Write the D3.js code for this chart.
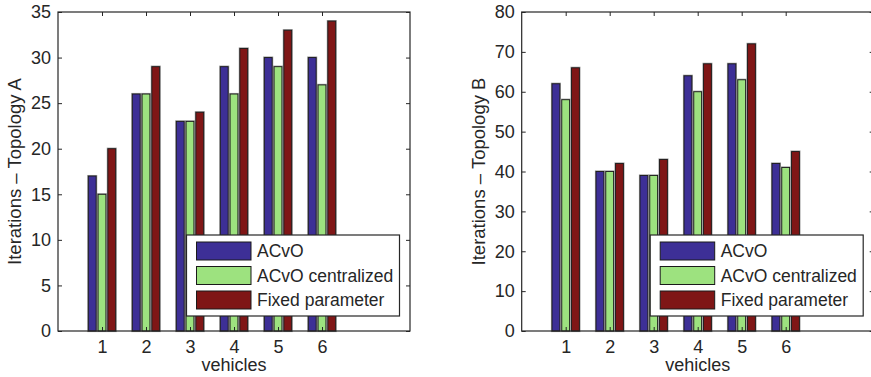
<!DOCTYPE html>
<html>
<head>
<meta charset="utf-8">
<script src="https://cdn.jsdelivr.net/npm/d3@7"></script>
<style>
body{margin:0;background:#fff;}
text{font-family:"Liberation Sans",Arial,sans-serif;fill:#262626;}
</style>
</head>
<body>
<div id="plot"></div>
<script>
//Size;
const w=871;
const h=377;

//Data;
const vehicles=[1,2,3,4,5,6];
const seriesNames=["ACvO","ACvO centralized","Fixed parameter"];
const seriesColors=["#3d2f96","#9de27f","#7f1616"];

const topoA_acvo=[17,26,23,29,30,30];
const topoA_central=[15,26,23,26,29,27];
const topoA_fixed=[20,29,24,31,33,34];

const topoB_acvo=[62,40,39,64,67,42];
const topoB_central=[58,40,39,60,63,41];
const topoB_fixed=[66,42,43,67,72,45];

const yTicksA=[0,5,10,15,20,25,30,35];
const yTicksB=[0,10,20,30,40,50,60,70,80];

const svg=d3.select("#plot")
			.append("svg")
			  .attr("width",w)
			  .attr("height",h);

function drawPanel(left,right,yMax,yTicks,series,yLabel,labelX){
	const top=12, bottom=331;

	let x=d3.scaleLinear().domain([0,8]).range([left,right]);
	let y=d3.scaleLinear().domain([0,yMax]).range([bottom,top]);

	const g=svg.append("g");

	//Bars (MATLAB grouped layout);
	const slot=(x(1)-x(0))*(2/3)/3;
	const bw=slot*0.8;
	series.forEach(function(vals,s){
		//soft gray halo;
		g.selectAll(null)
		 .data(vals)
		 .enter()
		.append("rect")
		 .attr("x",function(d,i){ return x(vehicles[i])+(s-1)*slot-bw/2; })
		 .attr("y",function(d){ return y(d); })
		 .attr("width",bw)
		 .attr("height",function(d){ return y(0)-y(d); })
		 .attr("fill","none")
		 .attr("stroke","#999")
		 .attr("stroke-width",2.2);
		g.selectAll(null)
		 .data(vals)
		 .enter()
		.append("rect")
		 .attr("x",function(d,i){ return x(vehicles[i])+(s-1)*slot-bw/2; })
		 .attr("y",function(d){ return y(d); })
		 .attr("width",bw)
		 .attr("height",function(d){ return y(0)-y(d); })
		 .attr("fill",seriesColors[s])
		 .attr("stroke","#1a1a1a")
		 .attr("stroke-width",0.9);
	});

	//Axes box;
	g.append("rect")
	 .attr("x",left).attr("y",top)
	 .attr("width",right-left).attr("height",bottom-top)
	 .attr("fill","none").attr("stroke","#262626").attr("stroke-width",1.2);

	//Axes with inward ticks;
	g.append("g")
	 .attr("transform","translate(0,"+bottom+")")
	 .call(d3.axisBottom(x).tickValues(vehicles).tickSizeInner(-4).tickSizeOuter(0).tickPadding(9))
	 .call(function(a){ a.select(".domain").remove(); });
	g.append("g")
	 .attr("transform","translate(0,"+top+")")
	 .call(d3.axisTop(x).tickValues(vehicles).tickSizeInner(-4).tickSizeOuter(0).tickFormat(""))
	 .call(function(a){ a.select(".domain").remove(); });
	g.append("g")
	 .attr("transform","translate("+left+",0)")
	 .call(d3.axisLeft(y).tickValues(yTicks).tickSizeInner(-4).tickSizeOuter(0).tickPadding(7))
	 .call(function(a){ a.select(".domain").remove(); });
	g.append("g")
	 .attr("transform","translate("+right+",0)")
	 .call(d3.axisRight(y).tickValues(yTicks).tickSizeInner(-4).tickSizeOuter(0).tickFormat(""))
	 .call(function(a){ a.select(".domain").remove(); });

	g.selectAll(".tick line").attr("stroke","#262626");
	g.selectAll(".tick text")
	 .attr("font-size","18px")
	 .attr("font-family","Liberation Sans, Arial, sans-serif")
	 .attr("fill","#262626");

	//Labels;
	g.append("text")
	 .attr("x",(left+right)/2).attr("y",371)
	 .attr("text-anchor","middle")
	 .attr("font-size","18px")
	 .text("vehicles");
	g.append("text")
	 .attr("transform","translate("+labelX+","+((top+bottom)/2)+") rotate(-90)")
	 .attr("text-anchor","middle")
	 .attr("dy","0.35em")
	 .attr("font-size","18.5px")
	 .text(yLabel);

	//Legend;
	const lx=left+128.5, ly=235, lw=213, lh=81;
	const lg=g.append("g");
	lg.append("rect")
	  .attr("x",lx).attr("y",ly).attr("width",lw).attr("height",lh)
	  .attr("fill","#fff").attr("stroke","#262626").attr("stroke-width",1.2);
	seriesNames.forEach(function(name,s){
		const ry=ly+7+s*24.5;
		lg.append("rect")
		  .attr("x",lx+10).attr("y",ry)
		  .attr("width",54.5).attr("height",18)
		  .attr("fill",seriesColors[s])
		  .attr("stroke","#1a1a1a").attr("stroke-width",1);
		lg.append("text")
		  .attr("x",lx+70.5).attr("y",ry+9)
		  .attr("dy","0.35em")
		  .attr("font-size","17.5px")
		  .text(name);
	});
}

drawPanel(58,410,35,yTicksA,[topoA_acvo,topoA_central,topoA_fixed],"Iterations \u2013 Topology A",15);
drawPanel(521.7,873.7,80,yTicksB,[topoB_acvo,topoB_central,topoB_fixed],"Iterations \u2013 Topology B",479);
</script>
</body>
</html>
